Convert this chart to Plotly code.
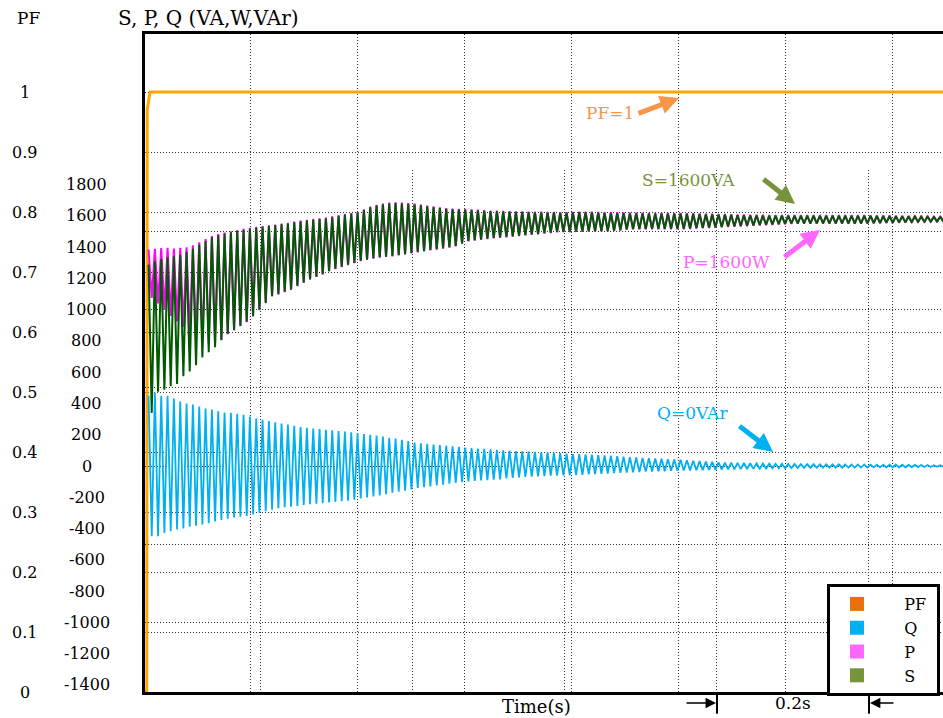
import plotly.graph_objects as go

# ---------------- data ----------------
X_RANGE = [0.0474, 1.0974]          # time window shown (s)
T_START = 0.05                      # start of the recorded ripple (s)
FREQ = 120                          # ripple frequency (Hz) -> one hi/lo pair per cycle

PF_T = [0.0474, 0.0497, 0.0503, 0.0540, 1.0974]
PF_V = [0.0, 0.0, 0.97, 1.0, 1.0]

# reactive power Q (VAr): peak / trough of every ripple cycle
Q_HI = [450, 470, 450, 450, 432, 412, 400, 394, 380, 368,
        361, 350, 342, 340, 335, 328, 316, 304, 296, 288,
        280, 272, 265, 258, 250, 245, 240, 236, 232, 228,
        224, 220, 215, 210, 205, 200, 195, 188, 181, 175,
        168, 160, 150, 146, 142, 138, 134, 130, 126, 122,
        118, 115, 112, 110, 107, 104, 101, 98, 96, 94,
        92, 90, 88, 86, 84, 82, 80, 78, 76, 74,
        72, 70, 68, 66, 63, 60, 57, 55, 52, 50,
        48, 46, 44, 42, 40, 37, 34, 31, 28, 26,
        24, 22, 21, 20, 19, 18, 17, 16, 15, 14,
        14, 13, 13, 12, 12, 12, 11, 11, 11, 11,
        10, 10, 10, 10, 9, 9, 9, 8, 8, 8,
        7, 7, 6, 6, 5, 5]
Q_LO = [-450, -450, -428, -418, -406, -400, -388, -382, -374, -366,
        -355, -345, -337, -330, -325, -320, -310, -300, -290, -280,
        -270, -264, -260, -255, -250, -245, -242, -238, -234, -230,
        -226, -222, -215, -208, -202, -195, -188, -180, -170, -165,
        -158, -150, -140, -135, -130, -125, -120, -113, -108, -103,
        -98, -95, -92, -90, -88, -85, -80, -76, -73, -70,
        -68, -66, -64, -62, -61, -60, -59, -58, -56, -54,
        -52, -50, -48, -46, -44, -42, -40, -38, -36, -35,
        -34, -33, -31, -30, -29, -28, -27, -26, -25, -24,
        -23, -22, -21, -20, -19, -18, -17, -16, -15, -14,
        -14, -13, -13, -12, -12, -12, -11, -11, -11, -11,
        -10, -10, -10, -10, -9, -9, -9, -8, -8, -8,
        -7, -7, -6, -6, -5, -5]

# apparent power S (VA)
S_HI = [1290, 1310, 1325, 1335, 1342, 1352, 1370, 1390, 1415, 1440,
        1465, 1478, 1488, 1496, 1504, 1512, 1518, 1524, 1530, 1535,
        1540, 1546, 1552, 1560, 1566, 1571, 1576, 1580, 1585, 1592,
        1600, 1608, 1614, 1620, 1638, 1655, 1666, 1674, 1680, 1682,
        1680, 1677, 1674, 1668, 1662, 1656, 1650, 1646, 1642, 1640,
        1640, 1638, 1635, 1632, 1630, 1629, 1628, 1626, 1625, 1624,
        1623, 1622, 1622, 1621, 1621, 1620, 1620, 1621, 1622, 1622,
        1622, 1621, 1620, 1619, 1618, 1617, 1616, 1616, 1616, 1615,
        1615, 1615, 1614, 1614, 1614, 1613, 1612, 1611, 1610, 1609,
        1608, 1607, 1606, 1605, 1604, 1603, 1602, 1602, 1601, 1601,
        1600, 1600, 1600, 1600, 1600, 1600, 1600, 1600, 1600, 1600,
        1600, 1600, 1600, 1600, 1599, 1599, 1598, 1598, 1597, 1597,
        1596, 1596, 1595, 1595, 1594, 1594]
S_LO = [340, 475, 488, 510, 525, 575, 605, 645, 695, 728,
        760, 805, 846, 870, 898, 923, 960, 1000, 1045, 1088,
        1100, 1115, 1130, 1153, 1175, 1195, 1212, 1228, 1248, 1262,
        1275, 1288, 1300, 1313, 1322, 1330, 1336, 1340, 1344, 1350,
        1356, 1363, 1370, 1376, 1382, 1388, 1394, 1400, 1408, 1425,
        1440, 1445, 1450, 1455, 1460, 1463, 1466, 1470, 1474, 1478,
        1482, 1486, 1490, 1494, 1498, 1499, 1500, 1501, 1502, 1503,
        1503, 1504, 1504, 1507, 1510, 1514, 1517, 1517, 1517, 1518,
        1518, 1518, 1518, 1518, 1518, 1520, 1522, 1524, 1526, 1528,
        1530, 1532, 1534, 1536, 1538, 1540, 1542, 1544, 1546, 1548,
        1550, 1552, 1553, 1553, 1553, 1553, 1553, 1553, 1553, 1553,
        1553, 1553, 1553, 1554, 1555, 1556, 1557, 1558, 1559, 1560,
        1561, 1562, 1563, 1564, 1565, 1565]

# active power P (W)
P_HI = [1385, 1390, 1394, 1396, 1392, 1396, 1400, 1412, 1432, 1452,
        1472, 1484, 1494, 1502, 1510, 1518, 1524, 1530, 1536, 1540,
        1545, 1551, 1557, 1565, 1571, 1576, 1581, 1585, 1590, 1597,
        1605, 1613, 1619, 1625, 1643, 1660, 1671, 1679, 1685, 1687,
        1685, 1682, 1679, 1673, 1667, 1661, 1655, 1651, 1647, 1645,
        1645, 1643, 1640, 1637, 1635, 1634, 1633, 1631, 1630, 1629,
        1628, 1627, 1627, 1626, 1626, 1625, 1625, 1626, 1627, 1627,
        1627, 1626, 1625, 1624, 1623, 1622, 1621, 1621, 1621, 1620,
        1620, 1620, 1619, 1619, 1619, 1618, 1617, 1616, 1615, 1614,
        1613, 1612, 1611, 1610, 1609, 1608, 1607, 1607, 1606, 1606,
        1605, 1605, 1605, 1605, 1605, 1605, 1605, 1605, 1605, 1605,
        1605, 1605, 1605, 1605, 1604, 1604, 1603, 1603, 1602, 1602,
        1601, 1601, 1600, 1600, 1599, 1599]
P_LO = [1075, 1040, 1000, 960, 925, 890, 850, 820, 800, 785,
        785, 810, 843, 867, 895, 920, 957, 997, 1042, 1085,
        1097, 1112, 1127, 1150, 1172, 1192, 1209, 1225, 1245, 1259,
        1272, 1285, 1297, 1310, 1319, 1327, 1333, 1337, 1341, 1347,
        1353, 1360, 1367, 1373, 1379, 1385, 1391, 1397, 1405, 1422,
        1437, 1442, 1447, 1452, 1457, 1460, 1463, 1467, 1471, 1475,
        1479, 1483, 1487, 1491, 1495, 1496, 1497, 1498, 1499, 1500,
        1500, 1501, 1501, 1504, 1507, 1511, 1514, 1514, 1514, 1515,
        1515, 1515, 1515, 1515, 1515, 1517, 1519, 1521, 1523, 1525,
        1527, 1529, 1531, 1533, 1535, 1537, 1539, 1541, 1543, 1545,
        1547, 1549, 1550, 1550, 1550, 1550, 1550, 1550, 1550, 1550,
        1550, 1550, 1550, 1551, 1552, 1553, 1554, 1555, 1556, 1557,
        1558, 1559, 1560, 1561, 1562, 1562]

PF_TICKS = [0, 0.1, 0.2, 0.3, 0.4, 0.5, 0.6, 0.7, 0.8, 0.9, 1]
PF_TICK_TEXT = ["0", "0.1", "0.2", "0.3", "0.4", "0.5", "0.6", "0.7", "0.8", "0.9", "1"]
SPQ_TICKS = [-1400, -1200, -1000, -800, -600, -400, -200, 0, 200,
             400, 600, 800, 1000, 1200, 1400, 1600, 1800]

LEGEND_NAMES = ["PF", "Q", "P", "S"]
LEGEND_COLORS = ["#E8700F", "#00B0F0", "#FF66FF", "#77933C"]

BRACKET_T = [0.8, 1.0]   # the 0.2 s interval marked under the axis

FONT = "DejaVu Serif"
NBSP = "\u00a0"


def ripple(hi, lo):
    xs, ys = [], []
    for k, (h, l) in enumerate(zip(hi, lo)):
        xs += [T_START + (k + 0.25) / FREQ, T_START + (k + 0.75) / FREQ]
        ys += [h, l]
    return xs, ys


fig = go.Figure()

qx, qy = ripple(Q_HI, Q_LO)
px_, py_ = ripple(P_HI, P_LO)
sx, sy = ripple(S_HI, S_LO)

fig.add_trace(go.Scatter(x=qx, y=qy, mode="lines", line=dict(color="#00B0F0", width=1.8),
                         xaxis="x2", yaxis="y2", showlegend=False, hoverinfo="skip"))
fig.add_trace(go.Scatter(x=px_, y=py_, mode="lines", line=dict(color="#FF00FF", width=2),
                         xaxis="x2", yaxis="y2", showlegend=False, hoverinfo="skip"))
fig.add_trace(go.Scatter(x=sx, y=sy, mode="lines", line=dict(color="#005A00", width=2),
                         xaxis="x2", yaxis="y2", showlegend=False, hoverinfo="skip"))
fig.add_trace(go.Scatter(x=PF_T, y=PF_V, mode="lines", line=dict(color="#FFA500", width=3),
                         xaxis="x", yaxis="y", showlegend=False, hoverinfo="skip"))

for name, col in zip(LEGEND_NAMES, LEGEND_COLORS):
    fig.add_trace(go.Scatter(x=[None], y=[None], mode="markers",
                             name=NBSP * 4 + name + NBSP,
                             marker=dict(symbol="square", size=14, color=col),
                             xaxis="x", yaxis="y"))

GRID = dict(showgrid=True, gridcolor="#333333", gridwidth=1, griddash="1px,2px",
            showticklabels=False, ticks="", zeroline=False)

fig.update_layout(
    width=943, height=718,
    margin=dict(l=145, r=0, t=34, b=26),
    paper_bgcolor="white", plot_bgcolor="rgba(0,0,0,0)",
    font=dict(family=FONT, size=16, color="black"),
    xaxis=dict(domain=[0, 1], range=X_RANGE, tick0=0.1856, dtick=0.1408, anchor="y",
               showline=True, linecolor="black", linewidth=3, mirror=True, **GRID),
    yaxis=dict(domain=[0, 1], range=[0, 1.0967], tick0=0, dtick=0.1, anchor="x",
               showline=True, linecolor="black", linewidth=3, mirror=False, **GRID),
    xaxis2=dict(domain=[0, 1], range=X_RANGE, tick0=0, dtick=0.2, anchor="y2",
                showline=False, **GRID),
    yaxis2=dict(domain=[0, 0.7933], range=[-1446, 1894], tick0=0, dtick=500, anchor="x2",
                showline=False, **GRID),
    showlegend=True,
    legend=dict(x=0.8546, y=0.1641, xanchor="left", yanchor="top",
                bgcolor="white", bordercolor="black", borderwidth=3,
                font=dict(family=FONT, size=16), itemwidth=44, tracegroupgap=0),
)

ann = []
# tick labels (centred columns, as in the reference)
for v, t in zip(PF_TICKS, PF_TICK_TEXT):
    ann.append(dict(x=-0.1504, xref="paper", y=v, yref="y", text=t, showarrow=False,
                    xanchor="center", yanchor="middle", font=dict(size=16)))
for v in SPQ_TICKS:
    ann.append(dict(x=-0.0727, xref="paper", y=v, yref="y2", text=str(v), showarrow=False,
                    xanchor="center", yanchor="middle", font=dict(size=16)))
# axis titles
ann.append(dict(x=-0.1466, xref="paper", y=1.0243, yref="paper", text="PF", showarrow=False,
                xanchor="center", yanchor="middle", font=dict(size=17)))
ann.append(dict(x=0.0802, xref="paper", y=1.0243, yref="paper", text="S, P, Q (VA,W,VAr)",
                showarrow=False, xanchor="center", yanchor="middle", font=dict(size=20)))
ann.append(dict(x=0.4912, xref="paper", y=-0.0213, yref="paper", text="Time(s)", showarrow=False,
                xanchor="center", yanchor="middle", font=dict(size=18)))
ann.append(dict(x=sum(BRACKET_T) / 2, xref="x", y=-0.0167, yref="paper", text="0.2s",
                showarrow=False, xanchor="center", yanchor="middle", font=dict(size=17)))
# bracket arrows
ann.append(dict(x=BRACKET_T[0], xref="x", y=-0.0167, yref="paper", text="", showarrow=True,
                ax=-32, ay=0, arrowhead=2, arrowsize=1.3, arrowwidth=1.6, arrowcolor="black",
                standoff=1))
ann.append(dict(x=BRACKET_T[1], xref="x", y=-0.0167, yref="paper", text="", showarrow=True,
                ax=26, ay=0, arrowhead=2, arrowsize=1.3, arrowwidth=1.6, arrowcolor="black",
                standoff=1))

# callouts: (text, text_x, text_y, head_x, head_y, ax, ay, color, xref, yref)
CALLOUTS = [
    ("PF=1", 0.6592, 0.965, 0.7500, 0.990, -42, 16, "#F79646", "x", "y"),
    ("S=1600VA", 0.7619, 1830, 0.9027, 1676, -33, -26, "#77933C", "x2", "y2"),
    ("P=1600W", 0.8119, 1305, 0.9356, 1510, -37, 28, "#FF66FF", "x2", "y2"),
    ("Q=0VAr", 0.7684, 339, 0.8737, 90, -35, -27, "#00B0F0", "x2", "y2"),
]
for txt, tx, ty, hx, hy, ax, ay, col, xr, yr in CALLOUTS:
    ann.append(dict(x=tx, xref=xr, y=ty, yref=yr, text=txt, showarrow=False,
                    xanchor="center", yanchor="middle", font=dict(size=17, color=col)))
    ann.append(dict(x=hx, xref=xr, y=hy, yref=yr, text="", showarrow=True,
                    ax=ax, ay=ay, arrowhead=2, arrowsize=0.75, arrowwidth=5,
                    arrowcolor=col, standoff=0))
fig.update_layout(annotations=ann)

shapes = []
for t in BRACKET_T:
    shapes.append(dict(type="line", xref="x", yref="paper", x0=t, x1=t, y0=0, y1=-0.033,
                       line=dict(color="black", width=2)))
fig.update_layout(shapes=shapes)

fig.write_html("out.html", config={"displayModeBar": False},
               post_script="document.body.style.margin='0';document.body.style.padding='0';"
                           "document.body.style.overflow='hidden';")
